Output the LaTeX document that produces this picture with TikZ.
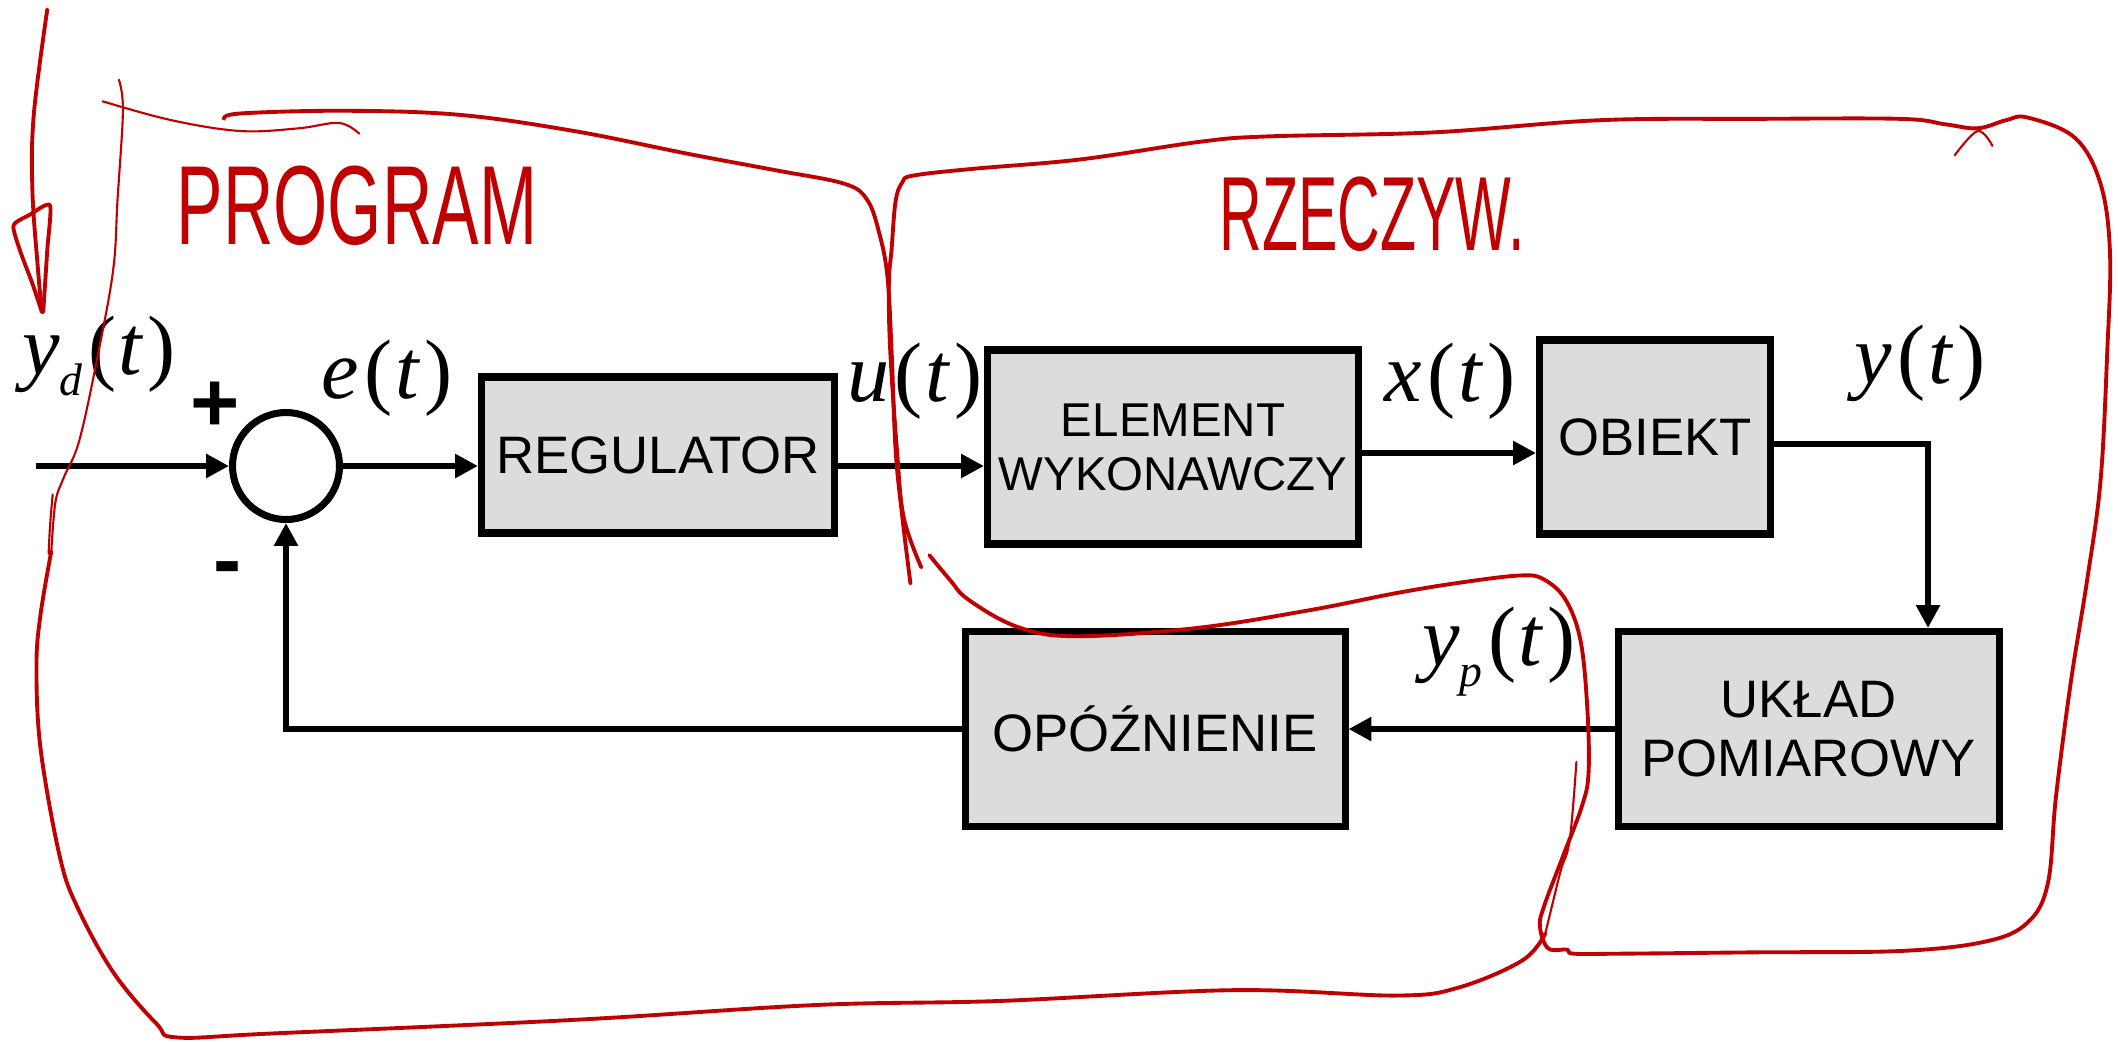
\documentclass[tikz,border=0pt]{standalone}
\usepackage{fontspec}
\setmainfont{Liberation Sans}
\newfontfamily\sigfont{Liberation Serif}
\usetikzlibrary{arrows.meta, positioning}
\definecolor{blockfill}{RGB}{220,220,220}
\definecolor{pen}{RGB}{192,0,0}
\newcommand{\sig}[2]{{\sigfont\textit{#1}\raisebox{-0.25em}{\fontsize{13}{13}\selectfont\textit{#2}}\kern1.5pt(\kern0.8pt\textit{t}\kern1pt)}}

\begin{document}
\begin{tikzpicture}[x=0.1mm, y=-0.1mm,
  every node/.style={inner sep=0pt},
  block/.style={rectangle, draw, line width=2pt, fill=blockfill, align=center,
    font=\fontsize{15}{17}\selectfont},
  sumnode/.style={circle, draw, line width=2pt, minimum size=1.07cm},
  arrow/.style={line width=1.7pt, -{Triangle[length=6.5pt, width=6.5pt]}},
  signal/.style={font=\fontsize{24}{24}\selectfont},
  sign/.style={font=\fontsize{24}{24}\selectfont\bfseries, anchor=base},
  ink/.style={pen, line width=1.1pt, line cap=round, line join=round},
  thinink/.style={ink, line width=0.6pt},
  note/.style={pen, font=\fontsize{32}{32}\selectfont}]

\useasboundingbox (0,0) rectangle (2118,1041);

\node[sumnode] (sum) at (286,466) {};
\node[block, minimum width=3.53cm, minimum height=1.56cm] (reg) at (658,455) {REGULATOR};
\node[block, minimum width=3.71cm, minimum height=1.94cm, font=\fontsize{13.5}{15.4}\selectfont] (elem) at (1173,447) {ELEMENT\\WYKONAWCZY};
\node[block, minimum width=2.31cm, minimum height=1.94cm] (plant) at (1655,437) {OBIEKT};
\node[block, minimum width=3.80cm, minimum height=1.95cm] (delay) at (1155,729) {OPÓŹNIENIE};
\node[block, minimum width=3.81cm, minimum height=1.95cm, right=2.66cm of delay] (sensor) {UKŁAD\\POMIAROWY};

\coordinate (input) at (36,466);
\coordinate (branch) at (1928,444);

\draw[arrow] (input) -- (sum);
\draw[arrow] (sum) -- (sum -| reg.west);
\draw[arrow] (reg.east |- sum) -- (sum -| elem.west);
\draw[arrow] ([yshift=-0.6mm]elem.east) -- ([yshift=-0.6mm]elem.east -| plant.west);
\draw[arrow] (plant.east |- branch) -| (branch |- sensor.north);
\draw[arrow] (sensor) -- (delay);
\draw[arrow] (delay) -| (sum);

\node[signal] (yd) at (99,356) {\sig{y}{d}};
\node[signal] (e) at (387,380) {\sig{e}{}};
\node[signal] (u) at (915,383) {\sig{u}{}};
\node[signal] (x) at (1450,383) {\sig{x}{}};
\node[signal] (y) at (1920,365) {\sig{y}{}};
\node[signal] (yp) at (1499,652) {\sig{y}{p}};
\node[sign] (plus) at (215,431) {+};
\node[sign] (minus) at (228,588) {-};

\node[note] (program) at (357,206) {\scalebox{0.62}[1]{PROGRAM}};
\node[note, font=\fontsize{30}{30}\selectfont] (real) at (1372,214) {\scalebox{0.56}[1]{RZECZYW.}};

\begin{scope}[scale=1.3508]
\draw[ink] plot[smooth, tension=0.6] coordinates {(35,7) (25,85) (24,141) (28,198) (31,231)};
\draw[ink] plot[smooth, tension=0.4] coordinates {(31,231) (24,210) (15,186) (10,167) (22,159) (37,152) (35,185) (32,231)};
\draw[thinink] plot[smooth, tension=0.6] coordinates {(88,59) (91,82) (87,148) (84,198) (74,255) (59,325) (47,354) (41,372) (38,408)};
\draw[ink] plot[smooth, tension=0.6] coordinates {(38,408) (30,455) (27,493) (30,554) (44,633) (57,671) (84,720) (116,758) (131,768) (203,765) (425,755) (604,744) (740,741) (913,733) (1034,737) (1080,731) (1127,711) (1144,691)};
\draw[thinink] plot[smooth, tension=0.6] coordinates {(1144,691) (1155,646) (1162,622) (1167,564)};
\draw[thinink] plot[smooth, tension=0.6] coordinates {(39,366) (37,390) (36,410)};
\draw[thinink] plot[smooth, tension=0.6] coordinates {(76,75) (127,89) (178,97) (221,95) (251,91) (266,99)};
\draw[ink] plot[smooth, tension=0.6] coordinates {(166,88) (178,84) (255,82) (340,85) (425,97) (510,114) (574,126) (625,136) (642,148) (651,173) (657,205) (660,259) (663,333) (668,383) (674,432)};
\draw[ink] plot[smooth, tension=0.6] coordinates {(682,420) (669,383) (664,333) (659,259) (658,210) (660,185) (663,149) (668,135) (676,130) (720,125) (800,118) (888,105) (938,101) (1061,98) (1184,89) (1300,88) (1407,88) (1440,92) (1464,95) (1485,89) (1501,87) (1536,102) (1555,136) (1562,187) (1560,260) (1555,356) (1545,430) (1533,505) (1522,590) (1516,654) (1501,683) (1470,697) (1407,704) (1300,705) (1200,706) (1165,706) (1160,703) (1146,702) (1140,686) (1143,671) (1157,634) (1171,597) (1176,572) (1175,523) (1170,474) (1159,444) (1143,429) (1126,426) (1083,431) (1034,439) (968,452) (885,465) (796,471) (753,464) (717,444) (703,429) (688,411)};
\draw[thinink] plot[smooth, tension=0.6] coordinates {(1447,115) (1464,97) (1475,108)};
\end{scope}

\end{tikzpicture}
\end{document}
